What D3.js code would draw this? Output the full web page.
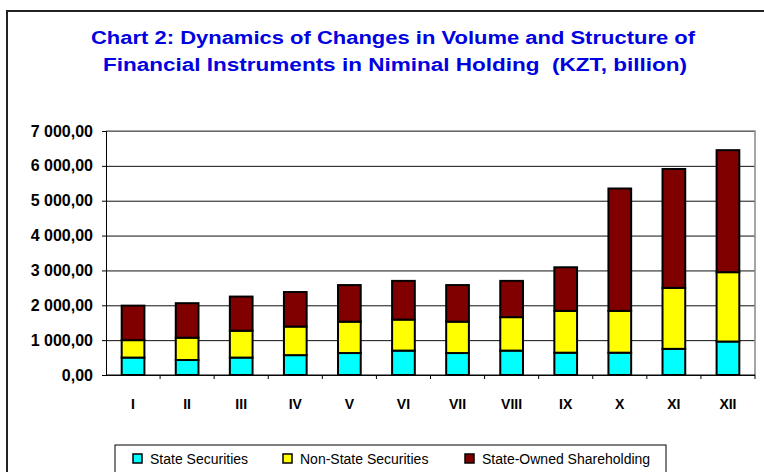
<!DOCTYPE html>
<html>
  <head>
    <meta charset="utf-8">
    <script src="https://cdn.jsdelivr.net/npm/d3@7"></script>
    <style>
        body { margin:0; background:#fff; }
        svg { display:block; font-family: "Liberation Sans", Arial, sans-serif; }
    </style>
  </head>
  <body>
    <script type="text/javascript">
      // months of the year, roman numerals
      var months = ["I","II","III","IV","V","VI","VII","VIII","IX","X","XI","XII"];
      var seriesNames = ["State Securities", "Non-State Securities", "State-Owned Shareholding"];
      var seriesColors = ["#00ffff", "#ffff00", "#800000"];
      // KZT billion
      var stateSecurities    = [500, 430, 500, 570, 630, 700, 630, 700, 640, 640, 750, 960];
      var nonStateSecurities = [500, 640, 770, 820, 900, 890, 900, 960, 1200, 1200, 1750, 1990];
      var stateOwnedShares   = [990, 990, 980, 990, 1050, 1110, 1050, 1040, 1250, 3510, 3410, 3500];
      var yTicks = [0, 1000, 2000, 3000, 4000, 5000, 6000, 7000];

      var width = 764, height = 472;
      // note: "top" is taken by window.top, so plot edges get their own names
      var plotLeft = 106, plotRight = 755, plotTop = 131, plotBottom = 375;

      var svg = d3.select("body").append("svg")
          .attr("width", width)
          .attr("height", height);

      // outer frame (runs off the picture on the right and bottom)
      svg.append("rect")
          .attr("x", 7).attr("y", 11)
          .attr("width", 800).attr("height", 500)
          .attr("fill", "none")
          .attr("stroke", "#222")
          .attr("stroke-width", 2);

      var title = svg.append("g").attr("fill", "#0000e0")
          .attr("font-weight", "bold").attr("font-size", 18)
          .attr("text-anchor", "middle");
      title.append("text").attr("x", 393).attr("y", 44)
          .attr("textLength", 604).attr("lengthAdjust", "spacingAndGlyphs")
          .text("Chart 2: Dynamics of Changes in Volume and Structure of");
      title.append("text").attr("x", 395).attr("y", 71)
          .attr("textLength", 584).attr("lengthAdjust", "spacingAndGlyphs")
          .attr("xml:space", "preserve")
          .text("Financial Instruments in Niminal Holding  (KZT, billion)");

      var x = d3.scaleBand().domain(months).range([plotLeft, plotRight]).padding(0);
      var y = d3.scaleLinear().domain([0, 7000]).range([plotBottom, plotTop]);

      var locale = d3.formatLocale({decimal: ",", thousands: " ", grouping: [3], currency: ["", ""]});
      var fmt = locale.format(",.2f");

      // gridlines
      svg.append("g")
          .attr("transform", "translate(" + plotLeft + ",0)")
          .call(d3.axisLeft(y).tickValues(yTicks).tickSize(-(plotRight - plotLeft)).tickFormat(""))
          .call(function(g) {
              g.select(".domain").remove();
              g.selectAll("line").attr("stroke", "#111");
          });

      // plot border top / right
      svg.append("path")
          .attr("d", "M" + plotLeft + "," + plotTop + "H" + plotRight + "V" + plotBottom)
          .attr("fill", "none").attr("stroke", "#888").attr("stroke-width", 1.5);

      // stacked bars
      var rows = months.map(function(m, i) {
          return {month: m, s0: stateSecurities[i], s1: nonStateSecurities[i], s2: stateOwnedShares[i]};
      });
      var stack = d3.stack().keys(["s0", "s1", "s2"])(rows);
      var bw = x.bandwidth() * 0.42;

      svg.append("g").selectAll("g")
          .data(stack)
          .enter().append("g")
          .attr("fill", function(d, i) { return seriesColors[i]; })
          .selectAll("rect")
          .data(function(d) { return d; })
          .enter().append("rect")
          .attr("x", function(d) { return x(d.data.month) + (x.bandwidth() - bw) / 2; })
          .attr("y", function(d) { return y(d[1]); })
          .attr("width", bw)
          .attr("height", function(d) { return y(d[0]) - y(d[1]); })
          .attr("stroke", "#000")
          .attr("stroke-width", 2);

      // y axis
      svg.append("g")
          .attr("transform", "translate(" + plotLeft + ",0)")
          .call(d3.axisLeft(y).tickValues(yTicks).tickSize(4).tickPadding(9).tickFormat(fmt))
          .call(function(g) {
              g.selectAll("text").attr("font-size", 16).attr("font-weight", "bold")
                  .attr("fill", "#000").attr("font-family", "Liberation Sans, Arial, sans-serif");
          });

      // x axis: ticks sit between the categories
      var xAxis = svg.append("g").attr("transform", "translate(0," + plotBottom + ")");
      xAxis.append("line").attr("x1", plotLeft).attr("x2", plotRight).attr("stroke", "#000");
      xAxis.selectAll(".tk")
          .data(months.slice(1).concat(["end"]))
          .enter().append("line")
          .attr("x1", function(d) { return d === "end" ? plotRight : x(d); })
          .attr("x2", function(d) { return d === "end" ? plotRight : x(d); })
          .attr("y1", 0).attr("y2", 4)
          .attr("stroke", "#000");
      xAxis.selectAll("text")
          .data(months)
          .enter().append("text")
          .attr("x", function(d) { return x(d) + x.bandwidth() / 2; })
          .attr("y", 34)
          .attr("text-anchor", "middle")
          .attr("font-size", 14).attr("font-weight", "bold")
          .text(function(d) { return d; });

      // legend
      var legend = svg.append("g");
      legend.append("rect")
          .attr("x", 115).attr("y", 445)
          .attr("width", 551).attr("height", 40)
          .attr("fill", "#fff").attr("stroke", "#000").attr("stroke-width", 1);
      var legendX = [133, 283, 465];
      var item = legend.selectAll(".item")
          .data(seriesNames)
          .enter().append("g")
          .attr("transform", function(d, i) { return "translate(" + legendX[i] + ",454)"; });
      item.append("rect")
          .attr("width", 9).attr("height", 9)
          .attr("fill", function(d, i) { return seriesColors[i]; })
          .attr("stroke", "#000").attr("stroke-width", 1.5);
      item.append("text")
          .attr("x", 17).attr("y", 9.5)
          .attr("font-size", 14)
          .text(function(d) { return d; });
    </script>
  </body>
</html>
